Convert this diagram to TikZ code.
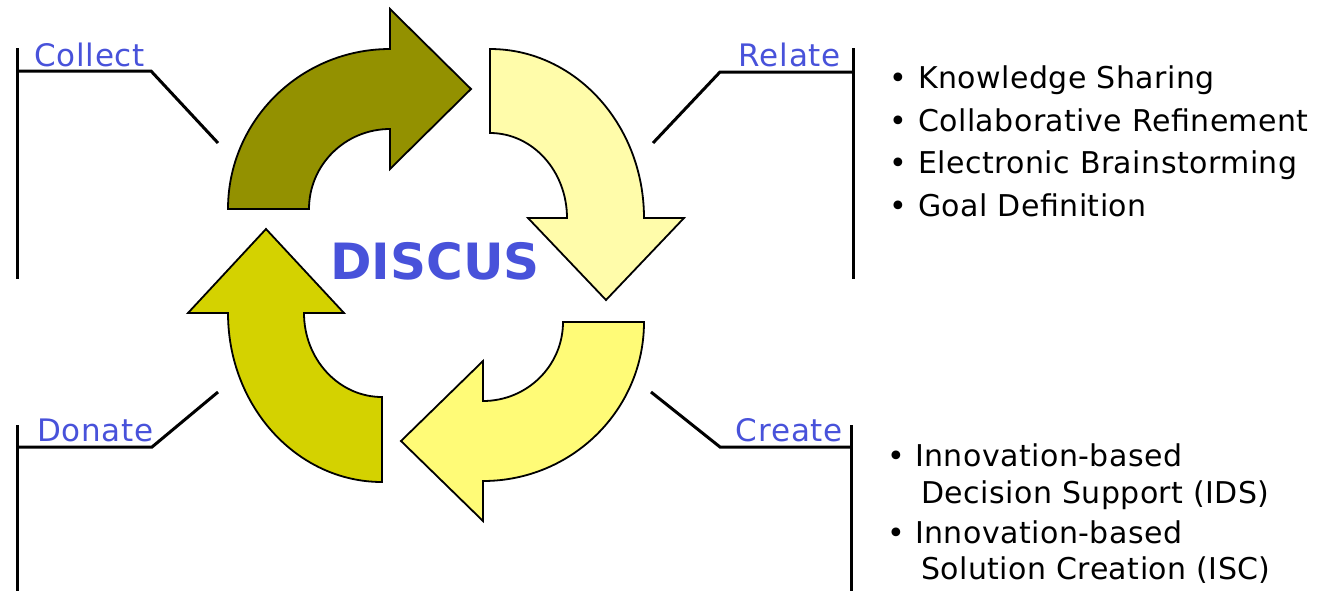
\documentclass[tikz,border=0pt]{standalone}
\usepackage{fontspec}
\setmainfont{DejaVu Sans}
\newfontfamily\labfont[LetterSpace=2.5]{DejaVu Sans}
\newfontfamily\itemfont[LetterSpace=1.5]{DejaVu Sans}
\definecolor{olivearr}{RGB}{147,145,0}
\definecolor{paleyel}{RGB}{255,252,170}
\definecolor{yelarr}{RGB}{255,251,119}
\definecolor{limearr}{RGB}{212,210,0}
\definecolor{labblue}{RGB}{72,82,218}
\begin{document}
\begin{tikzpicture}[x=1pt,y=-1pt,
  arrowshape/.style={draw=black,line width=1.8pt,line join=miter},
  bracket/.style={draw=black,line width=3pt},
  phase/.style={inner sep=0pt,text=labblue,font=\labfont\fontsize{31}{36}\selectfont},
  item/.style={inner sep=0pt,anchor=base west,font=\itemfont\fontsize{30}{36}\selectfont},
  title/.style={inner sep=0pt,text=labblue,font=\fontsize{50}{58}\selectfont\bfseries}]
\useasboundingbox (0,0) rectangle (1324,590);

% circular arrows
\path[arrowshape,fill=olivearr] (228,209) arc[start angle=180,end angle=90,x radius=162pt,y radius=160pt]
  -- (390,9) -- (471,89) -- (390,169) -- (390,129)
  arc[start angle=90,end angle=180,x radius=81pt,y radius=80pt] -- cycle;
\path[arrowshape,fill=paleyel] (490,49) arc[start angle=90,end angle=0,x radius=154pt,y radius=169pt]
  -- (684,218) -- (606,300) -- (528,218) -- (567,218)
  arc[start angle=0,end angle=90,x radius=77pt,y radius=85pt] -- cycle;
\path[arrowshape,fill=yelarr] (644,322) arc[start angle=0,end angle=-90,x radius=161pt,y radius=159pt]
  -- (483,521) -- (401,441) -- (483,361) -- (483,401)
  arc[start angle=-90,end angle=0,x radius=80pt,y radius=79pt] -- cycle;
\path[arrowshape,fill=limearr] (382,482) arc[start angle=-90,end angle=-180,x radius=154pt,y radius=169pt]
  -- (188,313) -- (266,229) -- (344,313) -- (304,313)
  arc[start angle=180,end angle=270,x radius=78pt,y radius=84pt] -- cycle;

\node[title,anchor=base] (discus) at (435,279) {DISCUS};

% brackets
\coordinate (c1) at (17,48); \coordinate (c2) at (17,279);
\draw[bracket] (c1) -- (c2);
\draw[bracket] (17,71) -- (151,71) -- (218,143);
\draw[bracket] (853,48) -- (853,279);
\draw[bracket] (853,72) -- (720,72) -- (653,143);
\draw[bracket] (851,425) -- (851,592);
\draw[bracket] (851,447) -- (720,447) -- (651,392);
\draw[bracket] (17,425) -- (17,592);
\draw[bracket] (17,447) -- (152,447) -- (218,392);

% phase labels
\node[phase,anchor=base west] (collect) at (34,66) {Collect};
\node[phase,anchor=base east] (relate) at (841,66) {Relate};
\node[phase,anchor=base east] (create) at (843,441) {Create};
\node[phase,anchor=base west] (donate) at (37,441) {Donate};

% relate list
\node[item] (b1) at (889,88) {•};  \node[item] (t1) at (918,88) {Knowledge Sharing};
\node[item] (b2) at (889,131) {•}; \node[item] (t2) at (918,131) {Collaborative Refinement};
\node[item] (b3) at (889,173) {•}; \node[item] (t3) at (918,173) {Electronic Brainstorming};
\node[item] (b4) at (889,216) {•}; \node[item] (t4) at (918,216) {Goal Definition};

% create list
\node[item] (b5) at (887,466) {•}; \node[item] (t5) at (915,466) {Innovation-based};
\node[item] (t5b) at (921,503) {Decision Support (IDS)};
\node[item] (b6) at (887,543) {•}; \node[item] (t6) at (915,543) {Innovation-based};
\node[item] (t6b) at (921,579) {Solution Creation (ISC)};
\end{tikzpicture}
\end{document}
